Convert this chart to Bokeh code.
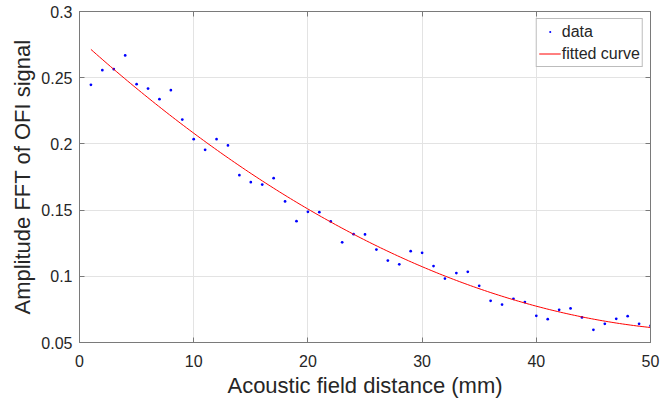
import numpy as np
from bokeh.plotting import figure
from bokeh.models import (Range1d, LinearAxis, FixedTicker, CustomJSTickFormatter,
                          Legend, LegendItem, ColumnDataSource)
from bokeh.embed import file_html
from bokeh.resources import INLINE

# ---- data ----
distance_mm = [1, 2, 3, 4, 5, 6, 7, 8, 9, 10,
               11, 12, 13, 14, 15, 16, 17, 18, 19, 20,
               21, 22, 23, 24, 25, 26, 27, 28, 29, 30,
               31, 32, 33, 34, 35, 36, 37, 38, 39, 40,
               41, 42, 43, 44, 45, 46, 47, 48, 49, 50]
amplitude = [0.2446, 0.2557, 0.2564, 0.2668, 0.2451, 0.2418, 0.2338, 0.2406, 0.2184, 0.2036,
             0.1955, 0.2036, 0.1988, 0.1764, 0.1711, 0.1693, 0.1741, 0.1565, 0.1416, 0.1487,
             0.1484, 0.1414, 0.1257, 0.1318, 0.1316, 0.1202, 0.1119, 0.1091, 0.1190, 0.1177,
             0.1077, 0.0983, 0.1024, 0.1034, 0.0928, 0.0815, 0.0787, 0.0830, 0.0805, 0.0702,
             0.0676, 0.0747, 0.0757, 0.0689, 0.0596, 0.0641, 0.0679, 0.0699, 0.0641, 0.0626]
x_ticks = [0, 10, 20, 30, 40, 50]
y_ticks = [0.05, 0.1, 0.15, 0.2, 0.25, 0.3]

# fitted curve: quadratic least-squares fit of the data (as in the original figure)
coef = np.polyfit(distance_mm, amplitude, 2)
fit_x = np.linspace(min(distance_mm), max(distance_mm), 200)
fit_y = np.polyval(coef, fit_x)

FONT = "Liberation Sans"
TXT = "#262626"
AX = "#7a7a7a"

p = figure(width=660, height=403, output_backend="svg", toolbar_location=None,
           x_range=Range1d(0, 50), y_range=Range1d(0.05, 0.3),
           min_border_left=79, min_border_right=10, min_border_top=11, min_border_bottom=61)
p.outline_line_color = AX
p.background_fill_color = "white"
p.border_fill_color = "white"

yfmt = CustomJSTickFormatter(code="var s = tick.toFixed(2); if (s.endsWith('0')) s = s.slice(0, -1); return s;")

for ax in p.xaxis:
    ax.ticker = FixedTicker(ticks=x_ticks)
for ax in p.yaxis:
    ax.ticker = FixedTicker(ticks=y_ticks)
    ax.formatter = yfmt

for ax in list(p.xaxis) + list(p.yaxis):
    ax.major_tick_in = 5
    ax.major_tick_out = 0
    ax.minor_tick_line_color = None
    ax.axis_line_color = AX
    ax.major_tick_line_color = AX
    ax.major_label_text_font = FONT
    ax.major_label_text_font_size = "16px"
    ax.major_label_text_color = TXT
    ax.axis_label_text_font = FONT
    ax.axis_label_text_font_size = "22px"
    ax.axis_label_text_font_style = "normal"
    ax.axis_label_text_color = TXT

p.xaxis.axis_label = "Acoustic field distance (mm)"
p.yaxis.axis_label = "Amplitude FFT of OFI signal"
p.xaxis.major_label_standoff = 12
p.yaxis.major_label_standoff = 7
p.xaxis.axis_label_standoff = 3
p.yaxis.axis_label_standoff = 3

# box ticks on top and right
empty = CustomJSTickFormatter(code="return '';")
top = LinearAxis(ticker=FixedTicker(ticks=x_ticks), formatter=empty)
right = LinearAxis(ticker=FixedTicker(ticks=y_ticks), formatter=empty)
for ax in (top, right):
    ax.major_tick_in = 5
    ax.major_tick_out = 0
    ax.minor_tick_line_color = None
    ax.axis_line_color = AX
    ax.major_tick_line_color = AX
    ax.major_label_standoff = 0
    ax.major_label_text_font_size = "1px"
p.add_layout(top, "above")
p.add_layout(right, "right")

p.xgrid.ticker = FixedTicker(ticks=x_ticks)
p.ygrid.ticker = FixedTicker(ticks=y_ticks)
p.grid.grid_line_color = "#e3e3e3"
p.grid.grid_line_width = 1

src = ColumnDataSource(dict(x=distance_mm, y=amplitude))
# "dot" marker: small filled dot like MATLAB's '.' (also small in the legend)
pts = p.scatter("x", "y", source=src, marker="dot", size=11,
                line_color="#0000ff", fill_color="#0000ff", line_width=1)
fit = p.line(fit_x, fit_y, line_color="#ff0000", line_width=1)

legend = Legend(items=[LegendItem(label="data", renderers=[pts]),
                       LegendItem(label="fitted curve", renderers=[fit])],
                location="top_right")
legend.margin = 7
legend.padding = 2
legend.spacing = 1
legend.glyph_width = 22
legend.glyph_height = 21
legend.label_height = 21
legend.label_standoff = 1
legend.label_text_font = FONT
legend.label_text_font_size = "16px"
legend.label_text_color = TXT
legend.border_line_color = AX
legend.border_line_width = 1
legend.background_fill_color = "white"
legend.background_fill_alpha = 1
p.add_layout(legend)

open("out.html", "w").write(file_html(p, INLINE))
